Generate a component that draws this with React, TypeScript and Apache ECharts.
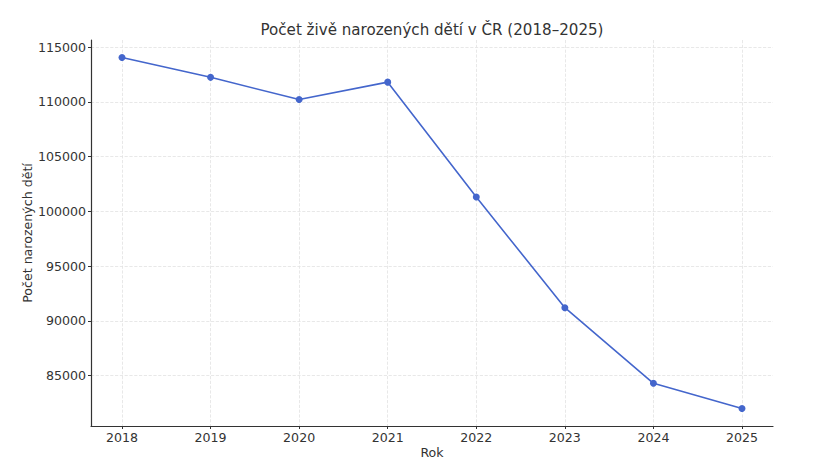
import React, { useEffect, useRef } from "react";
import * as echarts from "echarts";

const years = [2018, 2019, 2020, 2021, 2022, 2023, 2024, 2025];
const births = [114036, 112231, 110200, 111793, 101299, 91200, 84300, 82000];
const yTicks = [85000, 90000, 95000, 100000, 105000, 110000, 115000];
const titleText = "Počet živě narozených dětí v ČR (2018–2025)";
const xName = "Rok";
const yName = "Počet narozených dětí";

export default function App() {
  const ref = useRef<HTMLDivElement>(null);
  useEffect(() => {
    if (!ref.current) return;
    const chart = echarts.init(ref.current, undefined, { renderer: "svg" });
    const font = "'DejaVu Sans', sans-serif";
    chart.setOption({
      animation: false,
      backgroundColor: "#ffffff",
      title: {
        text: titleText,
        left: 427,
        top: 17,
        textAlign: "center",
        textStyle: { fontFamily: font, fontSize: 15.1, fontWeight: "normal", color: "#333333" },
      },
      grid: { left: 91, right: 57, top: 40, bottom: 40, outerBoundsMode: "none", containLabel: false },
      xAxis: {
        type: "value",
        min: 2017.65,
        max: 2025.35,
        name: xName,
        nameLocation: "middle",
        nameGap: 20,
        nameMoveOverlap: false,
        nameTextStyle: { fontFamily: font, fontSize: 12.6, color: "#333333" },
        axisLine: { show: true, lineStyle: { color: "#333333", width: 1.2 } },
        axisTick: { show: true, length: 3, customValues: years, lineStyle: { color: "#333333" } },
        axisLabel: {
          customValues: years,
          fontFamily: font,
          fontSize: 12.6,
          color: "#333333",
          margin: 5,
          formatter: (v: number) => String(Math.round(v)),
        },
        splitLine: { show: true, lineStyle: { color: "#e2e2e2", type: "dashed", width: 0.8 } },
      },
      yAxis: {
        type: "value",
        min: 80400,
        max: 115640,
        name: yName,
        nameLocation: "middle",
        nameGap: 57,
        nameMoveOverlap: false,
        nameTextStyle: { fontFamily: font, fontSize: 12.6, color: "#333333" },
        axisLine: { show: true, lineStyle: { color: "#333333", width: 1.2 } },
        axisTick: { show: true, length: 3, customValues: yTicks, lineStyle: { color: "#333333" } },
        axisLabel: {
          customValues: yTicks,
          fontFamily: font,
          fontSize: 12.6,
          color: "#333333",
          margin: 5,
          formatter: (v: number) => String(Math.round(v)),
        },
        splitLine: { show: true, lineStyle: { color: "#e2e2e2", type: "dashed", width: 0.8 } },
      },
      series: [
        {
          type: "line",
          data: years.map((y, i) => [y, births[i]]),
          symbol: "circle",
          symbolSize: 7,
          lineStyle: { color: "#4466cc", width: 1.6 },
          itemStyle: { color: "#4466cc" },
        },
      ],
    });
    return () => chart.dispose();
  }, []);
  return <div ref={ref} style={{ width: 830, height: 466, position: "absolute", left: 0, top: 0 }} />;
}
